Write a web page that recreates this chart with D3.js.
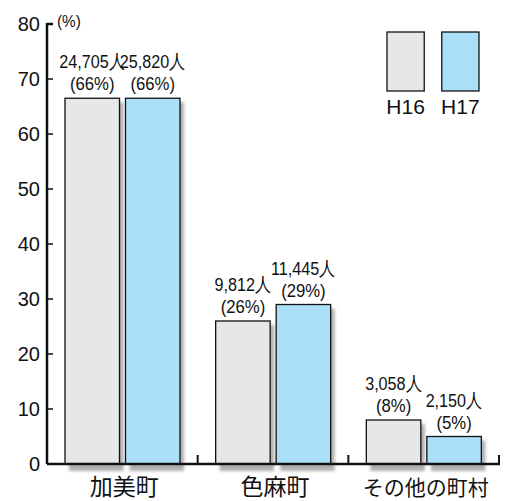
<!DOCTYPE html>
<html><head><meta charset="utf-8">
<script src="https://cdn.jsdelivr.net/npm/d3@7"></script>
<style>body{margin:0;background:#fff}svg{display:block}</style>
</head><body>
<script>
const categories = ["加美町", "色麻町", "その他の町村"];
const series = ["H16", "H17"];
const valuesH16 = [66.5, 26, 8];
const valuesH17 = [66.5, 29, 5];
const peopleH16 = ["24,705人", "9,812人", "3,058人"];
const peopleH17 = ["25,820人", "11,445人", "2,150人"];
const pctH16 = ["(66%)", "(26%)", "(8%)"];
const pctH17 = ["(66%)", "(29%)", "(5%)"];
const yTicks = [0, 10, 20, 30, 40, 50, 60, 70, 80];
const colors = {H16: "#e6e7e8", H17: "#aadff8"};

const W = 512, H = 501;
const svg = d3.select("body").append("svg").attr("width", W).attr("height", H);
const defs = svg.append("defs");
const f = defs.append("filter").attr("id", "sh").attr("x", "-20%").attr("y", "-20%").attr("width", "140%").attr("height", "140%");
f.append("feGaussianBlur").attr("stdDeviation", 1.5);

const x0 = 47, x1 = 499, yBase = 464;
const y = d3.scaleLinear().domain([0, 80]).range([yBase, 24]);
const xg = d3.scaleBand().domain(categories).range([x0, x1]).padding(0);
const xs = d3.scaleBand().domain(series).range([18, 133]).paddingInner(0.099).paddingOuter(0);

const data = [];
categories.forEach((c, i) => {
  data.push({c, s: "H16", v: valuesH16[i], p: peopleH16[i], q: pctH16[i]});
  data.push({c, s: "H17", v: valuesH17[i], p: peopleH17[i], q: pctH17[i]});
});

// shadows
svg.append("g").selectAll("rect").data(data).join("rect")
  .attr("x", d => xg(d.c) + xs(d.s) + 4)
  .attr("y", d => y(d.v) + 4)
  .attr("width", xs.bandwidth())
  .attr("height", d => yBase - y(d.v) + 3)
  .attr("fill", "#b0b0b0")
  .attr("filter", "url(#sh)");

// bars
svg.append("g").selectAll("rect").data(data).join("rect")
  .attr("x", d => xg(d.c) + xs(d.s))
  .attr("y", d => y(d.v))
  .attr("width", xs.bandwidth())
  .attr("height", d => yBase - y(d.v))
  .attr("fill", d => colors[d.s])
  .attr("stroke", "#111").attr("stroke-width", 1.3);

// bar labels
const lab = svg.append("g").attr("font-family", "Liberation Sans, Arial, sans-serif").attr("fill", "#111");
data.forEach(d => {
  const cx = xg(d.c) + xs(d.s) + xs.bandwidth() / 2;
  const ty = y(d.v);
  lab.append("text").attr("transform", `translate(${cx},${ty - 30}) scale(0.85,1)`)
    .attr("text-anchor", "middle").attr("font-size", 19).text(d.p);
  lab.append("text").attr("transform", `translate(${cx},${ty - 8}) scale(0.88,1)`)
    .attr("text-anchor", "middle").attr("font-size", 19).text(d.q);
});

// y axis
const ax = svg.append("g");
ax.append("line").attr("x1", x0).attr("x2", x0).attr("y1", y(80) - 1).attr("y2", yBase)
  .attr("stroke", "#111").attr("stroke-width", 2.5);
ax.selectAll("line.t").data(yTicks.filter(t => t > 0)).join("line").attr("class", "t")
  .attr("x1", x0).attr("x2", x0 + 6).attr("y1", d => y(d)).attr("y2", d => y(d))
  .attr("stroke", "#111").attr("stroke-width", d => d === 80 ? 2.5 : 1.5);
ax.selectAll("text").data(yTicks).join("text")
  .attr("transform", d => `translate(40,${y(d) + 7})`)
  .attr("text-anchor", "end").attr("font-family", "Liberation Sans, Arial, sans-serif")
  .attr("font-size", 20).attr("fill", "#111").text(d => d);
svg.append("text").attr("transform", `translate(57,27) scale(0.9,1)`)
  .attr("font-family", "Liberation Sans, Arial, sans-serif").attr("font-size", 17).attr("fill", "#111").text("(%)");

// baseline
svg.append("line").attr("x1", x0).attr("x2", x1 + 1).attr("y1", yBase).attr("y2", yBase)
  .attr("stroke", "#111").attr("stroke-width", 2.5);
const seps = categories.map(c => xg(c) + xg.bandwidth());
svg.append("g").selectAll("line").data(seps).join("line")
  .attr("x1", d => d).attr("x2", d => d).attr("y1", yBase - 9).attr("y2", yBase)
  .attr("stroke", "#111").attr("stroke-width", 2);

// category labels
svg.append("g").selectAll("text").data(categories).join("text")
  .attr("x", d => xg(d) + xg.bandwidth() / 2 + 2).attr("y", 495)
  .attr("text-anchor", "middle").attr("font-family", "Noto Sans CJK JP, sans-serif")
  .attr("font-size", d => d.length > 3 ? 21 : 23).attr("fill", "#111").text(d => d);

// legend
const lx = d3.scaleBand().domain(series).range([387, 479]).paddingInner(0.32);
const lg = svg.append("g");
lg.selectAll("rect").data(series).join("rect")
  .attr("x", d => lx(d)).attr("y", 32).attr("width", lx.bandwidth()).attr("height", 59)
  .attr("fill", d => colors[d]).attr("stroke", "#111").attr("stroke-width", 1.3);
lg.selectAll("text").data(series).join("text")
  .attr("transform", d => `translate(${lx(d) + lx.bandwidth() / 2},114)`)
  .attr("text-anchor", "middle").attr("font-family", "Liberation Sans, Arial, sans-serif")
  .attr("font-size", 21).attr("fill", "#111").text(d => d);
</script>
</body></html>
